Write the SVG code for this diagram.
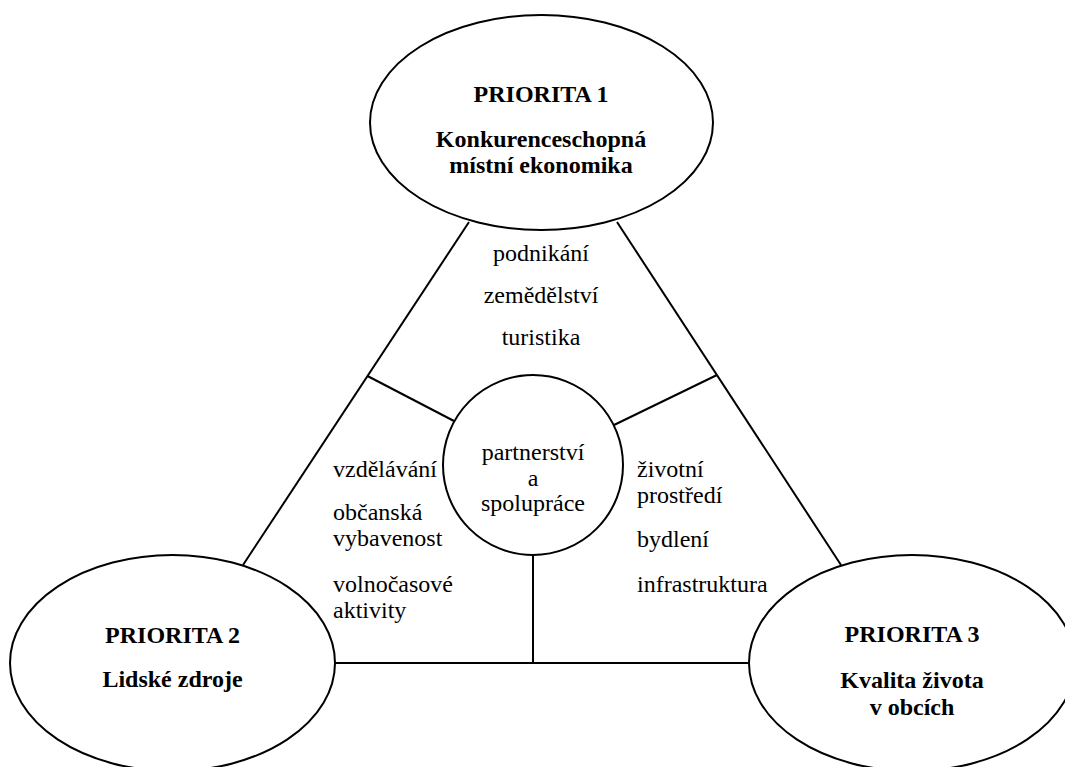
<svg xmlns="http://www.w3.org/2000/svg" width="1065" height="767" viewBox="0 0 1065 767">
<style>
.n{fill:#fff;stroke:#000;stroke-width:2}
.c{stroke:#000;stroke-width:2;fill:none}
.t{font-family:"Liberation Serif","Times New Roman","DejaVu Serif",serif;font-size:24px;fill:#000}
.b{font-weight:bold}
.m{text-anchor:middle}
</style>
<rect width="1065" height="767" fill="#fff"/>
<g id="connectors">
<line class="c" x1="469" y1="222" x2="243" y2="565"/>
<line class="c" x1="617" y1="222" x2="841" y2="565"/>
<line class="c" x1="335" y1="663" x2="749" y2="663"/>
<line class="c" x1="367.5" y1="376" x2="454" y2="421"/>
<line class="c" x1="614" y1="425" x2="717" y2="375"/>
<line class="c" x1="533" y1="555" x2="533" y2="663"/>
</g>
<g id="p1">
<ellipse class="n" cx="541.5" cy="122.5" rx="171.5" ry="107.5"/>
<text class="t b m" x="541" y="102">PRIORITA 1</text>
<text class="t b m" x="541" y="147">Konkurenceschopná</text>
<text class="t b m" x="541" y="173">místní ekonomika</text>
</g>
<g id="p2">
<ellipse class="n" cx="172.5" cy="663" rx="162.5" ry="108"/>
<text class="t b m" x="172.5" y="643">PRIORITA 2</text>
<text class="t b m" x="172.5" y="687">Lidské zdroje</text>
</g>
<g id="p3">
<ellipse class="n" cx="912" cy="663" rx="163" ry="108"/>
<text class="t b m" x="912" y="642">PRIORITA 3</text>
<text class="t b m" x="912" y="688">Kvalita života</text>
<text class="t b m" x="912" y="715">v obcích</text>
</g>
<g id="center">
<circle class="n" cx="533" cy="465" r="90"/>
<text class="t m" x="533" y="460">partnerství</text>
<text class="t m" x="533" y="486">a</text>
<text class="t m" x="533" y="511">spolupráce</text>
</g>
<g id="labels-top">
<text class="t m" x="541" y="261">podnikání</text>
<text class="t m" x="541" y="303">zemědělství</text>
<text class="t m" x="541" y="345">turistika</text>
</g>
<g id="labels-left">
<text class="t" x="333" y="477">vzdělávání</text>
<text class="t" x="333" y="520">občanská</text>
<text class="t" x="333" y="546">vybavenost</text>
<text class="t" x="333" y="592">volnočasové</text>
<text class="t" x="333" y="618">aktivity</text>
</g>
<g id="labels-right">
<text class="t" x="637" y="477">životní</text>
<text class="t" x="637" y="503">prostředí</text>
<text class="t" x="637" y="547">bydlení</text>
<text class="t" x="637" y="592">infrastruktura</text>
</g>
</svg>
